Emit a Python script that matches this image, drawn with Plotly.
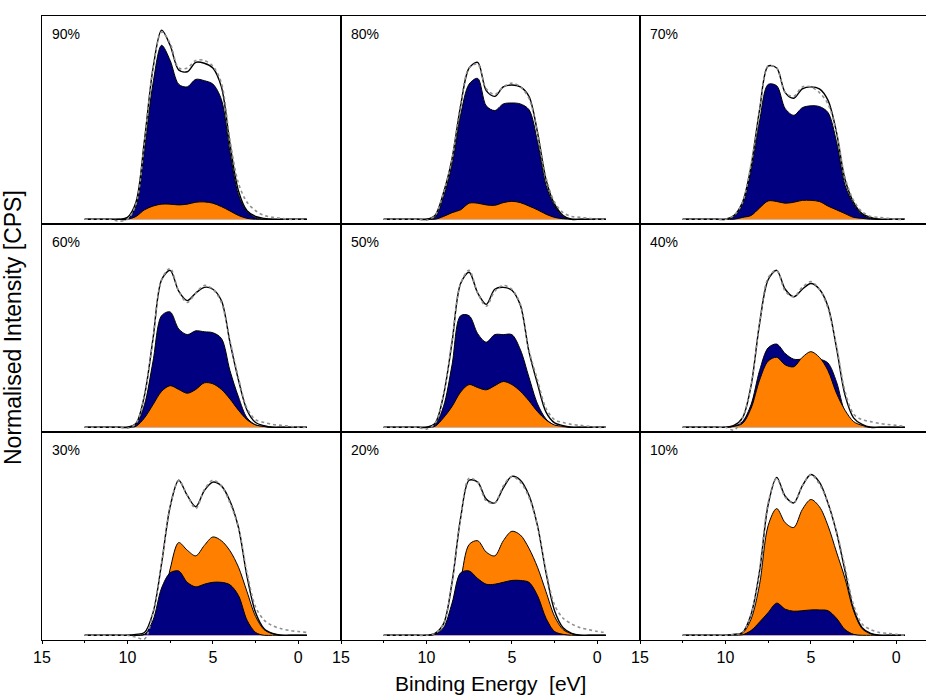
import plotly.graph_objects as go

# Binding energy grid (eV)
energy = [12.5, 12.0, 11.5, 11.0, 10.5, 10.0, 9.5, 9.0, 8.5, 8.0, 7.5, 7.0, 6.5, 6.0,
          5.5, 5.0, 4.5, 4.0, 3.5, 3.0, 2.5, 2.0, 1.5, 1.0, 0.5, 0.0, -0.5]

panel_labels = ["90%", "80%", "70%", "60%", "50%", "40%", "30%", "20%", "10%"]
x_tick_vals = [15, 10, 5, 0]
x_tick_text = ["15", "10", "5", "0"]
x_minor_vals = [12.5, 7.5, 2.5]

# ---- 90% ----
env_90 = [0, 0, 0, 0, 0, 0.01, 0.09, 0.42, 0.80, 1.00, 0.92, 0.79, 0.78, 0.83, 0.825, 0.80, 0.70, 0.40, 0.15, 0.045, 0.015, 0.005, 0, 0, 0, 0, 0]
navy_90 = [0, 0, 0, 0, 0, 0, 0.07, 0.37, 0.72, 0.92, 0.84, 0.714, 0.70, 0.74, 0.733, 0.715, 0.633, 0.356, 0.13, 0.04, 0.01, 0, 0, 0, 0, 0, 0]
orange_90 = [0, 0, 0, 0, 0, 0, 0.015, 0.05, 0.07, 0.08, 0.08, 0.076, 0.08, 0.09, 0.092, 0.085, 0.067, 0.044, 0.02, 0.005, 0, 0, 0, 0, 0, 0, 0]
data_90 = [0, 0, 0, 0, -0.01, 0, 0.08, 0.41, 0.80, 0.99, 0.93, 0.80, 0.80, 0.84, 0.84, 0.81, 0.72, 0.42, 0.19, 0.09, 0.045, 0.02, 0.01, 0.005, 0, 0, 0]

# ---- 80% ----
env_80 = [0, 0, 0, 0, 0, 0, 0.02, 0.14, 0.32, 0.60, 0.80, 0.83, 0.68, 0.65, 0.70, 0.71, 0.70, 0.65, 0.46, 0.21, 0.08, 0.02, 0, 0, 0, 0, 0]
navy_80 = [0, 0, 0, 0, 0, 0, 0.01, 0.12, 0.29, 0.55, 0.715, 0.745, 0.60, 0.575, 0.61, 0.615, 0.61, 0.58, 0.41, 0.18, 0.07, 0.015, 0, 0, 0, 0, 0]
orange_80 = [0, 0, 0, 0, 0, 0, 0, 0.015, 0.035, 0.05, 0.085, 0.085, 0.076, 0.074, 0.088, 0.095, 0.088, 0.07, 0.05, 0.027, 0.01, 0.003, 0, 0, 0, 0, 0]
data_80 = [0, 0, 0, 0, 0, -0.005, 0.02, 0.14, 0.32, 0.61, 0.80, 0.82, 0.69, 0.66, 0.70, 0.72, 0.70, 0.64, 0.46, 0.22, 0.09, 0.035, 0.015, 0.01, 0.005, 0, 0]

# ---- 70% ----
env_70 = [0, 0, 0, 0, 0, 0, 0.02, 0.09, 0.28, 0.58, 0.81, 0.80, 0.67, 0.64, 0.69, 0.70, 0.69, 0.63, 0.46, 0.21, 0.09, 0.03, 0.01, 0, 0, 0, 0]
navy_70 = [0, 0, 0, 0, 0, 0, 0.015, 0.08, 0.26, 0.52, 0.713, 0.706, 0.585, 0.55, 0.59, 0.60, 0.596, 0.565, 0.41, 0.18, 0.08, 0.025, 0.005, 0, 0, 0, 0]
orange_70 = [0, 0, 0, 0, 0, 0, 0, 0.01, 0.02, 0.06, 0.097, 0.094, 0.085, 0.09, 0.10, 0.10, 0.094, 0.07, 0.05, 0.03, 0.01, 0.005, 0, 0, 0, 0, 0]
data_70 = [0, 0, 0, 0, 0, 0, 0.02, 0.09, 0.29, 0.57, 0.81, 0.80, 0.67, 0.65, 0.70, 0.70, 0.67, 0.61, 0.46, 0.22, 0.10, 0.04, 0.015, 0.01, 0.005, 0, 0]

# ---- 60% ----
env_60 = [0, 0, 0, 0, 0, 0, 0.02, 0.17, 0.47, 0.78, 0.83, 0.72, 0.67, 0.71, 0.74, 0.73, 0.67, 0.45, 0.25, 0.09, 0.025, 0.008, 0, 0, 0, 0, 0]
navy_60 = [0, 0, 0, 0, 0, 0, 0.015, 0.12, 0.35, 0.59, 0.61, 0.52, 0.49, 0.51, 0.505, 0.50, 0.47, 0.30, 0.16, 0.05, 0.013, 0.004, 0, 0, 0, 0, 0]
orange_60 = [0, 0, 0, 0, 0, 0, 0.005, 0.05, 0.12, 0.19, 0.22, 0.20, 0.18, 0.20, 0.235, 0.23, 0.20, 0.15, 0.09, 0.04, 0.012, 0.004, 0, 0, 0, 0, 0]
data_60 = [0, 0, 0, 0, 0, -0.005, 0.02, 0.17, 0.47, 0.78, 0.84, 0.72, 0.66, 0.71, 0.75, 0.73, 0.66, 0.46, 0.26, 0.10, 0.04, 0.025, 0.015, 0.01, 0.005, 0, 0]

# ---- 50% ----
env_50 = [0, 0, 0, 0, 0, 0, 0.02, 0.17, 0.45, 0.76, 0.82, 0.71, 0.65, 0.73, 0.74, 0.725, 0.645, 0.40, 0.23, 0.08, 0.023, 0.009, 0, 0, 0, 0, 0]
navy_50 = [0, 0, 0, 0, 0, 0, 0.014, 0.11, 0.33, 0.59, 0.59, 0.495, 0.45, 0.49, 0.49, 0.49, 0.41, 0.265, 0.124, 0.044, 0.01, 0.003, 0, 0, 0, 0, 0]
orange_50 = [0, 0, 0, 0, 0, 0, 0.005, 0.05, 0.11, 0.186, 0.226, 0.21, 0.198, 0.22, 0.242, 0.226, 0.19, 0.14, 0.083, 0.039, 0.012, 0.005, 0, 0, 0, 0, 0]
data_50 = [0, 0, 0, 0, 0, -0.01, 0.02, 0.17, 0.46, 0.76, 0.83, 0.71, 0.64, 0.72, 0.75, 0.73, 0.65, 0.41, 0.25, 0.10, 0.04, 0.025, 0.015, 0.01, 0.005, 0, 0]

# ---- 40% ----
env_40 = [0, 0, 0, 0, 0, 0, 0.01, 0.05, 0.22, 0.55, 0.78, 0.83, 0.73, 0.69, 0.73, 0.76, 0.73, 0.64, 0.42, 0.17, 0.05, 0.015, 0, 0, 0, 0, 0]
navy_40 = [0, 0, 0, 0, 0, 0, 0.005, 0.03, 0.12, 0.30, 0.42, 0.44, 0.39, 0.36, 0.36, 0.36, 0.36, 0.34, 0.24, 0.08, 0.02, 0.005, 0, 0, 0, 0, 0]
orange_40 = [0, 0, 0, 0, 0, 0, 0.005, 0.02, 0.10, 0.25, 0.35, 0.37, 0.33, 0.32, 0.37, 0.40, 0.37, 0.30, 0.18, 0.09, 0.03, 0.01, 0, 0, 0, 0, 0]
data_40 = [0, 0, 0, 0, 0, 0, -0.015, 0.05, 0.22, 0.55, 0.79, 0.83, 0.72, 0.69, 0.74, 0.77, 0.73, 0.63, 0.43, 0.19, 0.07, 0.04, 0.03, 0.02, 0.015, 0.01, 0.005]

# ---- 30% ----
env_30 = [0, 0, 0, 0, 0, 0, 0.005, 0.015, 0.12, 0.38, 0.68, 0.82, 0.74, 0.68, 0.765, 0.81, 0.79, 0.71, 0.57, 0.31, 0.12, 0.035, 0.01, 0, 0, 0, 0]
navy_30 = [0, 0, 0, 0, 0, 0, 0, 0.005, 0.08, 0.25, 0.33, 0.34, 0.28, 0.256, 0.27, 0.28, 0.28, 0.267, 0.21, 0.08, 0.015, 0, 0, 0, 0, 0, 0]
orange_30 = [0, 0, 0, 0, 0, 0, 0, 0.005, 0.035, 0.12, 0.35, 0.49, 0.45, 0.42, 0.475, 0.52, 0.50, 0.447, 0.36, 0.23, 0.10, 0.03, 0.008, 0, 0, 0, 0]
data_30 = [0, 0, 0, 0, 0, 0, -0.01, -0.02, 0.12, 0.38, 0.68, 0.82, 0.74, 0.67, 0.77, 0.82, 0.79, 0.70, 0.57, 0.33, 0.15, 0.08, 0.05, 0.035, 0.025, 0.02, 0.015]

# ---- 20% ----
env_20 = [0, 0, 0, 0, 0, 0, 0.01, 0.06, 0.28, 0.62, 0.82, 0.81, 0.72, 0.70, 0.78, 0.84, 0.82, 0.74, 0.58, 0.33, 0.13, 0.04, 0.01, 0, 0, 0, 0]
navy_20 = [0, 0, 0, 0, 0, 0, 0.005, 0.04, 0.17, 0.33, 0.34, 0.30, 0.27, 0.27, 0.28, 0.29, 0.29, 0.28, 0.21, 0.09, 0.02, 0.005, 0, 0, 0, 0, 0]
orange_20 = [0, 0, 0, 0, 0, 0, 0.005, 0.02, 0.10, 0.29, 0.48, 0.50, 0.44, 0.42, 0.50, 0.55, 0.53, 0.46, 0.36, 0.23, 0.10, 0.03, 0.008, 0, 0, 0, 0]
data_20 = [0, 0, 0, 0, 0, 0, 0.01, 0.06, 0.28, 0.62, 0.83, 0.81, 0.71, 0.70, 0.79, 0.84, 0.81, 0.73, 0.58, 0.34, 0.16, 0.09, 0.06, 0.04, 0.03, 0.02, 0.015]

# ---- 10% ----
env_10 = [0, 0, 0, 0, 0, 0, 0.005, 0.015, 0.11, 0.34, 0.69, 0.835, 0.735, 0.70, 0.79, 0.85, 0.81, 0.70, 0.545, 0.34, 0.14, 0.04, 0.01, 0, 0, 0, 0]
navy_10 = [0, 0, 0, 0, 0, 0, 0, 0.003, 0.025, 0.07, 0.12, 0.17, 0.138, 0.127, 0.13, 0.134, 0.134, 0.13, 0.09, 0.03, 0.005, 0, 0, 0, 0, 0, 0]
orange_10 = [0, 0, 0, 0, 0, 0, 0.005, 0.012, 0.085, 0.27, 0.58, 0.67, 0.595, 0.57, 0.665, 0.718, 0.68, 0.58, 0.44, 0.30, 0.13, 0.035, 0.008, 0, 0, 0, 0]
data_10 = [0, 0, 0, 0, 0, 0, 0.005, 0.015, 0.11, 0.35, 0.70, 0.83, 0.73, 0.70, 0.79, 0.85, 0.80, 0.70, 0.55, 0.36, 0.16, 0.06, 0.03, 0.015, 0.01, 0.005, 0]

panels = [
    (env_90, navy_90, orange_90, data_90),
    (env_80, navy_80, orange_80, data_80),
    (env_70, navy_70, orange_70, data_70),
    (env_60, navy_60, orange_60, data_60),
    (env_50, navy_50, orange_50, data_50),
    (env_40, navy_40, orange_40, data_40),
    (env_30, navy_30, orange_30, data_30),
    (env_20, navy_20, orange_20, data_20),
    (env_10, navy_10, orange_10, data_10),
]

NAVY = "#000080"
ORANGE = "#FF8000"
GREY = "#8f8f8f"
FONT = "Liberation Sans, Arial, sans-serif"

W, H = 926, 698
ML, MT, MR, MB = 42, 16, 0, 58
PW = W - ML - MR   # 884
PH = H - MT - MB   # 624
col_px = [(0, 299), (299, 598), (598, PW)]
row_px = [(416, PH), (208, 416), (0, 208)]
px_per_ev = 299 / 17.5

fig = go.Figure()
layout_axes = {}

for i, (env, navy, orange, data) in enumerate(panels):
    r, c = divmod(i, 3)
    xa = "x" if i == 0 else f"x{i+1}"
    ya = "y" if i == 0 else f"y{i+1}"
    xkey = "xaxis" if i == 0 else f"xaxis{i+1}"
    ykey = "yaxis" if i == 0 else f"yaxis{i+1}"

    comps = [(navy, NAVY), (orange, ORANGE)]
    comps.sort(key=lambda t: -max(t[0]))
    for vals, colr in comps:
        fig.add_trace(go.Scatter(
            x=energy, y=vals, xaxis=xa, yaxis=ya, mode="lines",
            line=dict(color="black", width=1, shape="spline", smoothing=0.9),
            fill="tozeroy", fillcolor=colr, showlegend=False, hoverinfo="skip"))
    fig.add_trace(go.Scatter(
        x=energy, y=env, xaxis=xa, yaxis=ya, mode="lines",
        line=dict(color="black", width=1.4, shape="spline", smoothing=0.9),
        showlegend=False, hoverinfo="skip"))
    fig.add_trace(go.Scatter(
        x=energy, y=data, xaxis=xa, yaxis=ya, mode="lines",
        line=dict(color=GREY, width=1.6, dash="dot", shape="spline", smoothing=0.9),
        showlegend=False, hoverinfo="skip"))

    x0p, x1p = col_px[c]
    y0p, y1p = row_px[r]
    width_px = x1p - x0p
    xr = [15, 15 - width_px / px_per_ev]
    bottom = (r == 2)
    xa_dict = dict(
        domain=[x0p / PW, x1p / PW], range=xr, anchor=ya,
        showline=True, linecolor="black", linewidth=1, mirror=True,
        showgrid=False, zeroline=False,
        showticklabels=bottom,
        tickmode="array", tickvals=x_tick_vals if bottom else [],
        ticktext=x_tick_text if bottom else [],
        ticks="outside" if bottom else "", ticklen=3, tickwidth=1, tickcolor="black",
        tickfont=dict(family=FONT, size=16, color="black"),
    )
    if bottom:
        xa_dict["minor"] = dict(tickmode="array", tickvals=x_minor_vals,
                                ticks="outside", ticklen=2, tickcolor="black", tickwidth=1)
    layout_axes[xkey] = xa_dict
    layout_axes[ykey] = dict(
        domain=[y0p / PH, y1p / PH], range=[-0.025, 1.075], anchor=xa,
        showline=True, linecolor="black", linewidth=1, mirror=(c != 2),
        showgrid=False, zeroline=False, showticklabels=False, ticks="")

    fig.add_annotation(
        text=panel_labels[i], xref=f"{xa} domain", yref=f"{ya} domain",
        x=8 / width_px, y=1 - 17.5 / 208, xanchor="left", yanchor="middle",
        showarrow=False, font=dict(family=FONT, size=14, color="black"))

fig.add_annotation(
    text="Binding Energy  [eV]", xref="paper", yref="paper",
    x=(490 - ML) / PW, y=-(683 - (MT + PH)) / PH, xanchor="center", yanchor="middle",
    showarrow=False, font=dict(family=FONT, size=21, color="black"))
fig.add_annotation(
    text="Normalised Intensity [CPS]", xref="paper", yref="paper",
    x=(13 - ML) / PW, y=(MT + PH - 328) / PH, xanchor="center", yanchor="middle",
    textangle=-90, showarrow=False, font=dict(family=FONT, size=23, color="black"))

fig.update_layout(
    width=W, height=H,
    margin=dict(l=ML, r=MR, t=MT, b=MB, pad=0),
    paper_bgcolor="white", plot_bgcolor="white",
    showlegend=False,
    **layout_axes,
)

fig.write_html(
    "out.html",
    config={"displayModeBar": False},
    post_script="document.body.style.margin='0';document.body.style.padding='0';"
                "document.documentElement.style.overflow='hidden';",
)
